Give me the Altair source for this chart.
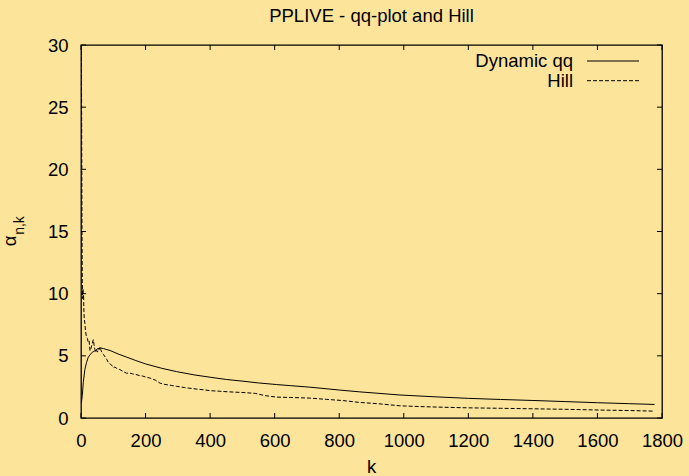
import altair as alt
import pandas as pd

# ---- data ----
qq_k = [1, 4, 7, 12, 17, 22, 28, 35, 43, 51, 59, 70, 80, 90, 115, 141, 170, 200, 250, 296,
        350, 400, 450, 502, 550, 606, 650, 709, 800, 864, 988, 1100, 1200, 1300, 1400, 1500,
        1600, 1700, 1777]
qq_val = [1.2, 1.8, 2.85, 3.9, 4.45, 4.85, 5.1, 5.28, 5.4, 5.55, 5.65, 5.58, 5.5, 5.43, 5.15,
          4.9, 4.62, 4.35, 4.0, 3.73, 3.47, 3.28, 3.1, 2.96, 2.82, 2.69, 2.6, 2.48, 2.25, 2.1,
          1.85, 1.7, 1.58, 1.49, 1.41, 1.32, 1.23, 1.15, 1.09]

hill_k = [1, 2, 3, 4, 5, 6, 7, 8, 9, 10, 12, 14, 17, 20, 22, 25, 28, 31, 34, 38, 41, 43, 46,
          48, 51, 53, 56, 59, 62, 66, 70, 75, 80, 85, 90, 95, 100, 105, 110, 115, 120, 130,
          141, 150, 160, 170, 180, 190, 200, 215, 230, 245, 260, 280, 296, 320, 350, 375, 400,
          430, 460, 502, 540, 570, 606, 650, 709, 760, 812, 864, 920, 988, 1050, 1100, 1194,
          1300, 1400, 1500, 1607, 1700, 1777]
hill_val = [30, 24, 15.5, 11, 9.6, 10.4, 9.7, 9.9, 8.6, 8.0, 7.6, 7.0, 6.5, 6.4, 6.1, 6.2, 5.4,
            5.6, 5.9, 6.3, 5.8, 5.5, 5.3, 5.45, 5.3, 5.6, 5.5, 5.7, 5.45, 5.2, 5.1, 4.9, 4.7,
            4.45, 4.35, 4.25, 4.05, 4.1, 4.0, 3.95, 3.9, 3.75, 3.6, 3.62, 3.55, 3.5, 3.42, 3.38,
            3.3, 3.2, 3.05, 2.8, 2.7, 2.62, 2.55, 2.45, 2.35, 2.28, 2.2, 2.15, 2.1, 2.05, 1.98,
            1.8, 1.68, 1.65, 1.6, 1.5, 1.4, 1.25, 1.15, 0.98, 0.92, 0.88, 0.82, 0.78, 0.74, 0.7,
            0.64, 0.6, 0.55]

x_ticks = [0, 200, 400, 600, 800, 1000, 1200, 1400, 1600, 1800]
y_ticks = [0, 5, 10, 15, 20, 25, 30]

title_text = "PPLIVE - qq-plot and Hill"
x_title = "k"
series_names = ["Dynamic qq", "Hill"]

# ---- layout ----
W, H = 581, 373
FONT = "Liberation Sans"
FS = 18.5
BG = "#FDE49B"

qq_df = pd.DataFrame({"k": qq_k, "v": qq_val})
hill_df = pd.DataFrame({"k": hill_k, "v": hill_val})
xt_df = pd.DataFrame({"t": x_ticks})
yt_df = pd.DataFrame({"t": y_ticks})

xs = alt.Scale(domain=[0, 1800], nice=False)
ys = alt.Scale(domain=[0, 30], nice=False)

x_axis = alt.Axis(values=x_ticks, format="d", ticks=False, tickSize=0, domain=False, grid=False,
                  labelFont=FONT, labelFontSize=FS, labelColor="black", labelPadding=13,
                  title=None, labelFlush=False, labelOverlap=False)
y_axis = alt.Axis(values=y_ticks, format="d", ticks=False, tickSize=0, domain=False, grid=False,
                  labelFont=FONT, labelFontSize=FS, labelColor="black", labelPadding=13,
                  title=None, labelFlush=False, labelOverlap=False)

qq_line = alt.Chart(qq_df).mark_line(color="black", strokeWidth=1, clip=True).encode(
    x=alt.X("k:Q", scale=xs, axis=x_axis),
    y=alt.Y("v:Q", scale=ys, axis=y_axis),
)
hill_line = alt.Chart(hill_df).mark_line(color="black", strokeWidth=1, strokeDash=[4, 2], clip=True).encode(
    x=alt.X("k:Q", scale=xs),
    y=alt.Y("v:Q", scale=ys),
)

# inward ticks (gnuplot style, mirrored)
xt_bottom = alt.Chart(xt_df).mark_rule(color="black", strokeWidth=1).encode(
    x=alt.X("t:Q", scale=xs), y=alt.value(H), y2=alt.value(H - 5))
xt_top = alt.Chart(xt_df).mark_rule(color="black", strokeWidth=1).encode(
    x=alt.X("t:Q", scale=xs), y=alt.value(0), y2=alt.value(5))
yt_left = alt.Chart(yt_df).mark_rule(color="black", strokeWidth=1).encode(
    y=alt.Y("t:Q", scale=ys), x=alt.value(0), x2=alt.value(5))
yt_right = alt.Chart(yt_df).mark_rule(color="black", strokeWidth=1).encode(
    y=alt.Y("t:Q", scale=ys), x=alt.value(W), x2=alt.value(W - 5))

# titles
title_mark = alt.Chart(pd.DataFrame({"s": [title_text]})).mark_text(
    font=FONT, fontSize=FS, color="black", align="center", baseline="alphabetic").encode(
    text="s:N", x=alt.value(W / 2), y=alt.value(-23.3))
xlabel = alt.Chart(pd.DataFrame({"s": [x_title]})).mark_text(
    font=FONT, fontSize=FS, color="black", align="center", baseline="alphabetic").encode(
    text="s:N", x=alt.value(W / 2), y=alt.value(428))
ylab_a = alt.Chart(pd.DataFrame({"s": ["α"]})).mark_text(
    font=FONT, fontSize=FS, color="black", align="center", baseline="alphabetic", angle=270).encode(
    text="s:N", x=alt.value(-65), y=alt.value(196))
ylab_sub = alt.Chart(pd.DataFrame({"s": ["n,k"]})).mark_text(
    font=FONT, fontSize=14, color="black", align="center", baseline="alphabetic", angle=270).encode(
    text="s:N", x=alt.value(-57.5), y=alt.value(180.5))

# legend
leg_qq_txt = alt.Chart(pd.DataFrame({"s": [series_names[0]]})).mark_text(
    font=FONT, fontSize=FS, color="black", align="right", baseline="alphabetic").encode(
    text="s:N", x=alt.value(492), y=alt.value(21.7))
leg_hill_txt = alt.Chart(pd.DataFrame({"s": [series_names[1]]})).mark_text(
    font=FONT, fontSize=FS, color="black", align="right", baseline="alphabetic").encode(
    text="s:N", x=alt.value(492), y=alt.value(41.7))
leg_qq_line = alt.Chart(pd.DataFrame({"s": [series_names[0]]})).mark_rule(
    color="black", strokeWidth=1).encode(x=alt.value(506), x2=alt.value(558), y=alt.value(16))
leg_hill_line = alt.Chart(pd.DataFrame({"s": [series_names[1]]})).mark_rule(
    color="black", strokeWidth=1, strokeDash=[4, 2]).encode(
    x=alt.value(506), x2=alt.value(558), y=alt.value(35.7))

chart = alt.layer(
    qq_line, hill_line, xt_bottom, xt_top, yt_left, yt_right,
    title_mark, xlabel, ylab_a, ylab_sub,
    leg_qq_txt, leg_hill_txt, leg_qq_line, leg_hill_line,
).properties(
    width=W, height=H,
    autosize=alt.AutoSizeParams(type="none"),
    padding={"left": 81, "top": 45, "right": 27, "bottom": 58},
    background=BG,
).configure_view(
    stroke="black", strokeWidth=1.3, fill=BG,
)

chart.save("out.html", embed_options={"renderer": "svg", "actions": False})
